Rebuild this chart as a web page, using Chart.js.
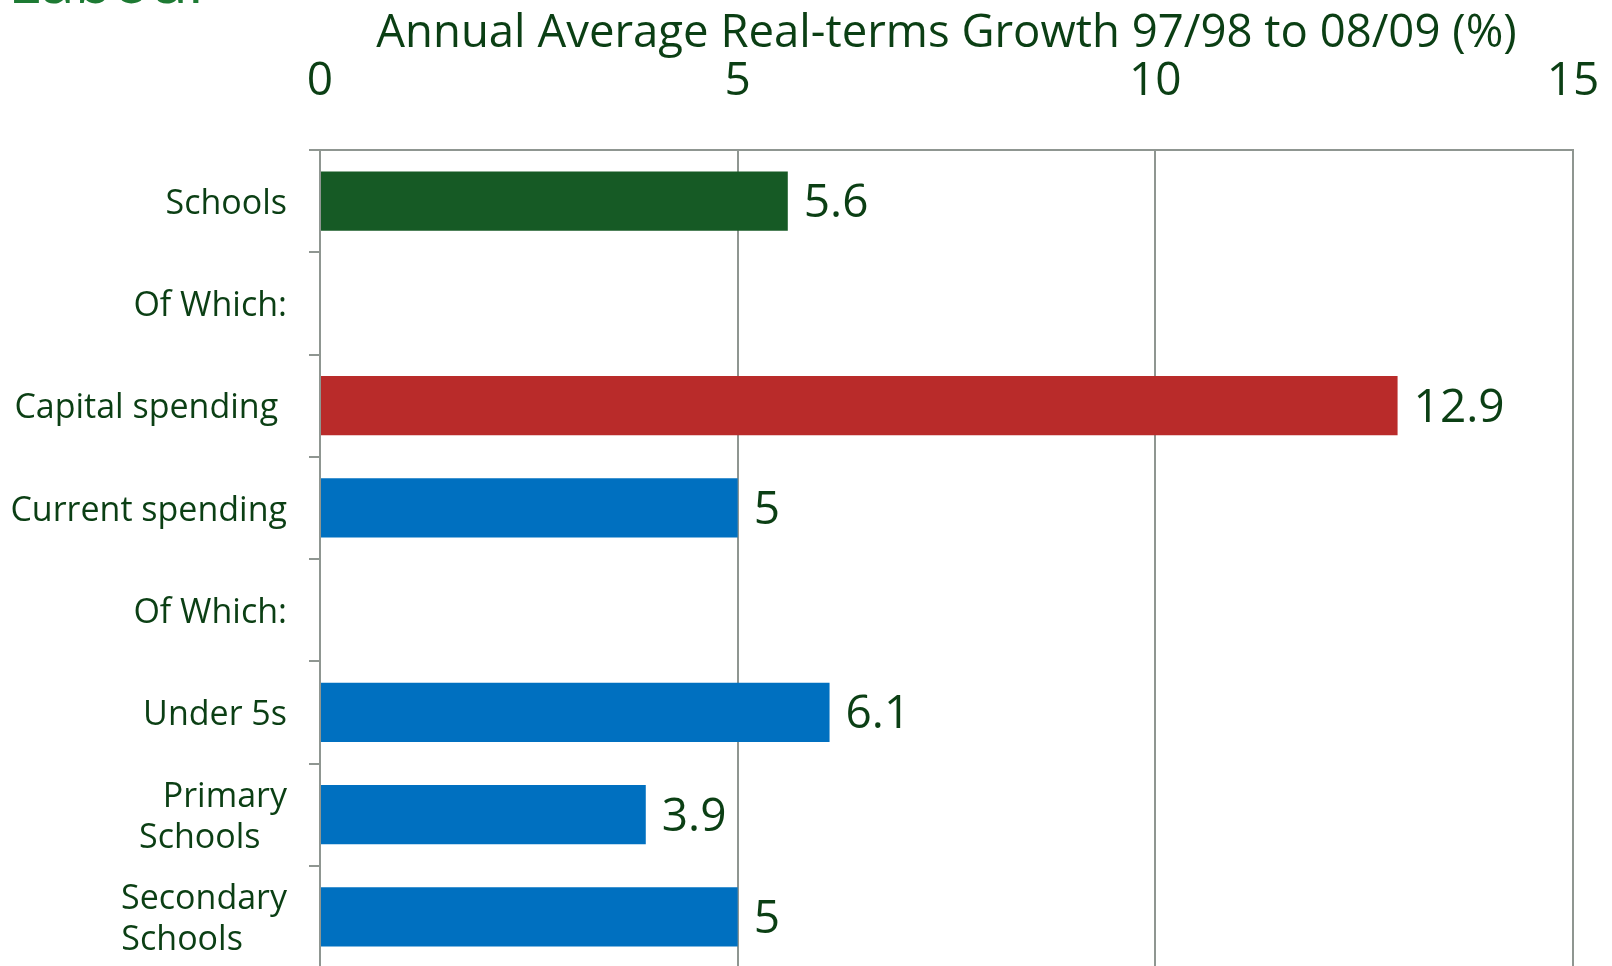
<!DOCTYPE html>
<html>
<head>
<meta charset="utf-8">
<script src="https://cdn.jsdelivr.net/npm/chart.js@4.4.1/dist/chart.umd.min.js"></script>
<style>
  html, body { margin: 0; padding: 0; background: #fff; overflow: hidden; }
  #wrap { position: relative; width: 1612px; height: 968px; }
  #brand {
    position: absolute; left: 8px; top: -52px;
    font-family: 'Open Sans', sans-serif; font-size: 62px; line-height: 62px;
    color: #1d7a33; white-space: nowrap;
  }
  canvas { position: absolute; left: 0; top: 0; }
</style>
</head>
<body>
<div id="wrap">
  <div id="brand">Labour</div>
  <canvas id="myChart" width="1612" height="968"></canvas>
</div>
<script>
// categories, top to bottom
const categorias = ['Schools', 'Of Which:', 'Capital spending ', 'Current spending', 'Of Which:', 'Under 5s', ['Primary', 'Schools   '], ['Secondary', 'Schools     ']];
const crecimiento = [5.6, null, 12.9, 5, null, 6.1, 3.9, 5];
const colores = ['#165a25', null, '#b92b2a', '#0070c0', null, '#0070c0', '#0070c0', '#0070c0'];
const ejeX = [0, 5, 10, 15];
const tituloEje = 'Annual Average Real-terms Growth 97/98 to 08/09 (%)';

const verde = '#0b3f14';
const gris = '#8f9691';
const fuente = "'Open Sans', sans-serif";

// numbers at the end of each bar
const etiquetas = {
  id: 'etiquetas',
  afterDatasetsDraw(chart) {
    const ctx = chart.ctx;
    const meta = chart.getDatasetMeta(0);
    ctx.save();
    ctx.font = '46px ' + fuente;
    ctx.fillStyle = verde;
    ctx.textAlign = 'left';
    ctx.textBaseline = 'middle';
    meta.data.forEach((bar, i) => {
      const v = crecimiento[i];
      if (v === null) return;
      ctx.fillText(String(v), bar.x + 16, bar.y + 3);
    });
    ctx.restore();
  }
};

let myChart;

function grafico() {
  const ctx = document.getElementById('myChart').getContext('2d');
  myChart = new Chart(ctx, {
    type: 'bar',
    data: {
      labels: categorias,
      datasets: [{
        data: crecimiento,
        backgroundColor: colores,
        barPercentage: 1,
        categoryPercentage: 0.58
      }]
    },
    options: {
      indexAxis: 'y',
      responsive: false,
      animation: false,
      layout: { padding: { top: 0, right: 39, bottom: 0, left: 0 } },
      plugins: {
        legend: { display: false },
        tooltip: { enabled: false }
      },
      scales: {
        x: {
          position: 'top',
          min: 0,
          max: 15,
          afterBuildTicks: (scale) => { scale.ticks = ejeX.map(v => ({ value: v })); },
          afterFit: (scale) => {
            scale.height = 150;
            scale.paddingLeft = 0;
            scale.paddingRight = 0;
          },
          ticks: {
            color: verde,
            font: { family: fuente, size: 46, lineHeight: 1 },
            padding: 45,
            maxRotation: 0
          },
          grid: { color: gris, lineWidth: 2, drawTicks: false },
          border: { color: gris, width: 2 },
          title: {
            display: true,
            text: tituloEje,
            color: verde,
            font: { family: fuente, size: 45.5, lineHeight: 1 },
            padding: { top: 11, bottom: 0 }
          }
        },
        y: {
          afterFit: (scale) => {
            scale.width = 320;
            scale.paddingTop = 0;
            scale.paddingBottom = 0;
          },
          ticks: {
            color: verde,
            font: { family: fuente, size: 34, lineHeight: 1.2 },
            padding: 22,
            labelOffset: 3,
            autoSkip: false
          },
          grid: { offset: true, drawOnChartArea: false, color: gris, lineWidth: 2, tickLength: 11 },
          border: { color: gris, width: 2 }
        }
      }
    },
    plugins: [etiquetas]
  });
  return myChart;
}

grafico();
</script>
</body>
</html>
